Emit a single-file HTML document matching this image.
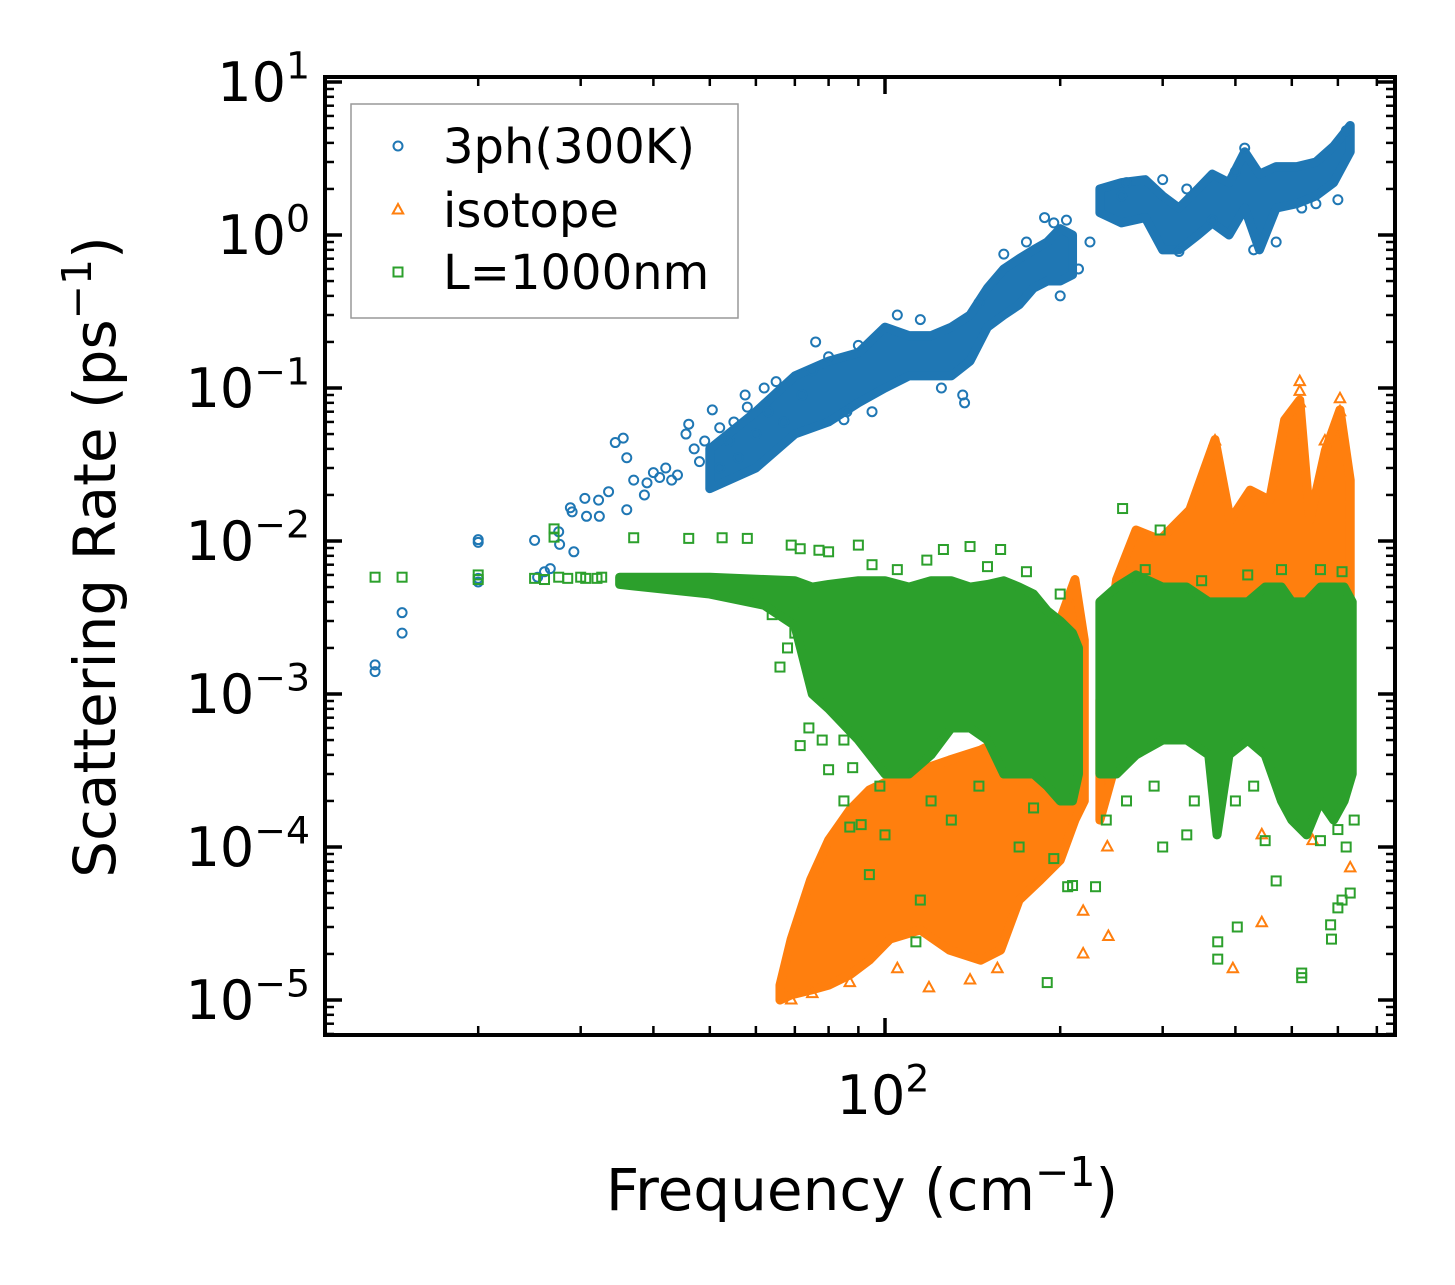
<!DOCTYPE html>
<html><head><meta charset="utf-8"><style>
html,body{margin:0;padding:0;background:#fff;}
svg{display:block;font-family:"DejaVu Sans","Liberation Sans",sans-serif;}
</style></head><body>
<svg id="chart" width="1455" height="1285" viewBox="0 0 1455 1285">
<rect width="1455" height="1285" fill="#fff"/>
<g id="plot"></g>
<g id="axes"></g>
</svg>
<script>
// ---- data ----
const blueBand = [[50,0.022,0.04],[60,0.03,0.07],[70,0.05,0.12],[80,0.06,0.15],[90,0.08,0.17],[100,0.1,0.25],[110,0.12,0.22],[120,0.12,0.22],[130,0.12,0.25],[140,0.15,0.3],[150,0.25,0.45],[160,0.3,0.6],[170,0.35,0.7],[180,0.45,0.8],[190,0.5,0.9],[200,0.5,1.1],[210,0.55,1.0]];
const blueBand2 = [[234,1.4,2.0],[255,1.2,2.2],[280,1.3,2.3],[300,0.8,1.8],[320,0.8,1.5],[345,1.0,2.0],[365,1.2,2.5],[390,1.0,2.2],[415,1.5,3.5],[440,0.8,2.5],[470,1.5,2.8],[510,1.6,2.8],[550,1.8,3.0],[590,2.2,3.8],[630,3.5,5.2]];
const bluePts = [[13.3,0.00155],[13.3,0.0014],[14.8,0.0034],[14.8,0.0025],[20,0.0102],[20,0.0098],[20,0.0057],[20,0.0054],[25,0.0101],[25.3,0.0058],[26,0.0063],[26.6,0.0066],[27.5,0.0115],[27.6,0.0095],[28.8,0.0165],[29,0.0155],[29.2,0.0085],[30.5,0.019],[30.7,0.0145],[32.2,0.0185],[32.3,0.0145],[33.5,0.021],[34.4,0.044],[35.5,0.047],[36,0.035],[36,0.016],[37,0.025],[38.6,0.02],[39,0.024],[40,0.028],[41,0.026],[42,0.03],[43,0.025],[44,0.027],[45.5,0.05],[46,0.058],[47,0.04],[48,0.033],[50.5,0.072],[52,0.055],[54,0.045],[57.5,0.09],[58,0.075],[62,0.1],[65,0.11],[76,0.2],[85,0.062],[86,0.07],[80,0.16],[137,0.08],[136,0.09],[188,1.3],[195,1.2],[205,1.25],[225,0.9],[255,1.8],[320,0.78],[365,1.25],[415,3.7],[550,1.6],[430,0.8],[49,0.045],[52,0.03],[55,0.06],[56,0.035],[60,0.05],[63,0.07],[67,0.06],[72,0.09],[75,0.13],[90,0.19],[95,0.07],[105,0.3],[115,0.28],[125,0.1],[145,0.36],[160,0.75],[175,0.9],[200,0.4],[215,0.6],[260,2.2],[300,2.3],[330,2.0],[400,2.6],[470,0.9],[520,1.5],[600,1.7],[620,4.8]];
const orangeBand = [[66,1.0e-5,1.25e-5],[69,1.08e-5,2.5e-5],[74.5,1.16e-5,6.1e-5],[80,1.25e-5,1.11e-4],[87,1.46e-5,1.75e-4],[94,1.82e-5,2.36e-4],[102,2.5e-5,2.74e-4],[115,2.87e-5,3.18e-4],[129,2.12e-5,3.7e-4],[146,1.82e-5,4.3e-4],[158,2.12e-5,5e-4],[170,4.5e-5,6.8e-4],[185,6.1e-5,9.1e-4],[200,8.2e-5,3.05e-3],[212,1.5e-4,5.6e-3],[220,2.0e-4,2.25e-3]];
const orangeBand2 = [[234,1.5e-4,9.1e-4],[250,3.7e-4,5.6e-3],[270,6.8e-4,0.0118],[297,8e-4,0.0102],[334,8e-4,0.016],[369,8e-4,0.046],[392,8e-4,0.0137],[424,8e-4,0.0215],[458,8e-4,0.0185],[486,8e-4,0.0618],[516,8e-4,0.0835],[537,8e-4,0.0137],[571,8e-4,0.039],[605,8e-4,0.072],[630,8e-4,0.025]];
const orangePts = [[516,0.11],[516,0.095],[516,0.08],[605,0.085],[605,0.07],[369,0.045],[570,0.045],[241,1.0e-4],[242,2.6e-5],[219,2e-5],[396,1.6e-5],[444,3.2e-5],[630,7.3e-5],[444,1.2e-4],[543,1.1e-4],[87,1.3e-5],[119,1.2e-5],[140,1.35e-5],[105,1.6e-5],[156,1.6e-5],[219,3.8e-5],[69,1.0e-5],[75,1.1e-5]];
const greenBand = [[35,0.0052,0.0058],[50,0.0045,0.0058],[62,0.0038,0.0056],[70,0.0028,0.0055],[75,0.001,0.005],[80,0.0008,0.0052],[90,0.0005,0.0055],[100,0.0003,0.0055],[110,0.0003,0.005],[120,0.0004,0.0055],[130,0.0006,0.0055],[140,0.0006,0.005],[150,0.0005,0.0052],[160,0.0003,0.0055],[170,0.0003,0.005],[180,0.0003,0.0045],[190,0.00025,0.0035],[200,0.0002,0.003],[210,0.0002,0.0025],[215,0.0003,0.002]];
const greenBand2 = [[234,0.0003,0.004],[250,0.0003,0.005],[270,0.0004,0.006],[300,0.0005,0.005],[330,0.0005,0.005],[360,0.0004,0.004],[372,0.00012,0.004],[390,0.0004,0.004],[420,0.0005,0.004],[450,0.0004,0.005],[480,0.0002,0.005],[500,0.00015,0.004],[530,0.00012,0.004],[560,0.0002,0.005],[590,0.00015,0.005],[615,0.0002,0.005],[635,0.0003,0.004]];
const greenPts = [[13.3,0.0058],[14.8,0.0058],[20,0.006],[20,0.0056],[25,0.0057],[26,0.0056],[27.5,0.0058],[28.5,0.0057],[30,0.0058],[30.6,0.0057],[32,0.0057],[32.6,0.0058],[27,0.012],[27,0.0106],[37,0.0105],[46,0.0104],[52.5,0.0105],[58,0.0104],[69,0.0094],[71.5,0.0089],[77,0.0087],[80,0.0085],[90,0.0094],[126,0.0088],[158,0.0088],[140,0.0092],[71.5,0.00046],[80,0.00032],[74,0.0006],[78,0.0005],[85,0.0005],[88,0.00033],[115,4.5e-5],[190,1.3e-5],[373,2.4e-5],[373,1.85e-5],[403,3.0e-5],[520,1.5e-5],[520,1.4e-5],[583,3.1e-5],[585,2.5e-5],[230,5.5e-5],[206,5.5e-5],[210,5.6e-5],[195,8.4e-5],[113,2.4e-5],[94,6.6e-5],[91,1.4e-4],[87,1.35e-4],[256,0.0163],[297,0.0118],[66,0.0015],[68,0.002],[70,0.0025],[100,0.00012],[130,0.00015],[170,0.0001],[300,0.0001],[330,0.00012],[450,0.00011],[600,0.00013],[620,0.0001],[610,4.5e-5],[630,5e-5],[600,4e-5],[470,6e-5],[60,0.0042],[64,0.0033],[68,0.0045],[72,0.0035],[76,0.0025],[95,0.007],[105,0.0065],[118,0.0075],[150,0.0068],[175,0.0063],[200,0.0045],[85,0.0002],[98,0.00025],[120,0.0002],[145,0.00025],[180,0.00018],[240,0.00015],[260,0.0002],[290,0.00025],[340,0.0002],[400,0.0002],[430,0.00025],[560,0.00011],[640,0.00015],[280,0.0065],[350,0.0055],[420,0.006],[480,0.0065],[560,0.0065],[610,0.0063]];
const yTicks = [1e1,1e0,1e-1,1e-2,1e-3,1e-4,1e-5];
const yTickExp = ["1","0","\u22121","\u22122","\u22123","\u22124","\u22125"];
const xTicks = [100];
const xTickExp = ["2"];

// ---- scales ----
const L=325,R=1395,T=77,B=1035;
const X=f=>885+582*(Math.log10(f)-2);
const Y=r=>235-153*Math.log10(r);
const NS='http://www.w3.org/2000/svg';
const plot=document.getElementById('plot'), axes=document.getElementById('axes');
function mk(tag,attrs,parent){const e=document.createElementNS(NS,tag);for(const k in attrs)e.setAttribute(k,attrs[k]);parent.appendChild(e);return e;}
const C={b:'#1f77b4',o:'#ff7f0e',g:'#2ca02c'};

function band(arr,color,name){
  let pts=arr.map(d=>X(d[0])+','+Y(d[2]));
  pts=pts.concat(arr.slice().reverse().map(d=>X(d[0])+','+Y(d[1])));
  const p=mk('polygon',{points:pts.join(' '),fill:color,stroke:color,'stroke-width':9,'stroke-linejoin':'round'},plot);
  
  
}
function circ(x,y,parent){return mk('circle',{cx:x,cy:y,r:4.5,fill:'none',stroke:C.b,'stroke-width':2},parent);}
function tri(x,y,parent){return mk('polygon',{points:`${x},${y-6} ${x-5.2},${y+3.5} ${x+5.2},${y+3.5}`,fill:'none',stroke:C.o,'stroke-width':2},parent);}
function sq(x,y,parent){return mk('rect',{x:x-4.5,y:y-4.5,width:9,height:9,fill:'none',stroke:C.g,'stroke-width':2},parent);}

band(blueBand,C.b,'3ph-band-low');
band(blueBand2,C.b,'3ph-band-high');
bluePts.forEach(d=>{const e=circ(X(d[0]),Y(d[1]),plot);
  
  });
band(orangeBand,C.o,'isotope-band-low');
band(orangeBand2,C.o,'isotope-band-high');
orangePts.forEach(d=>{const e=tri(X(d[0]),Y(d[1]),plot);
  
  });
band(greenBand,C.g,'boundary-band-low');
band(greenBand2,C.g,'boundary-band-high');
greenPts.forEach(d=>{const e=sq(X(d[0]),Y(d[1]),plot);
  
  });

// ---- axes ----
function line(x1,y1,x2,y2,w,name){const e=mk('line',{x1,y1,x2,y2,stroke:'#000','stroke-width':w},axes);
  
  }
for(let e=-5;e<=1;e++){
  const y=Y(Math.pow(10,e));
  line(L,y,L+17,y,3.5,'y-major-tick');line(R,y,R-17,y,3.5,'y-major-tick');
  if(e<1)for(let k=2;k<=9;k++){const yy=Y(k*Math.pow(10,e));line(L,yy,L+9,yy,2.5,'y-minor-tick');line(R,yy,R-9,yy,2.5,'y-minor-tick');}
}
for(let k=6;k<=9;k++){const yy=Y(k*1e-6);if(yy<B){line(L,yy,L+9,yy,2.5,'y-minor-tick');line(R,yy,R-9,yy,2.5,'y-minor-tick');}}
[20,30,40,50,60,70,80,90,200,300,400,500,600,700].forEach(f=>{const x=X(f);line(x,B,x,B-9,2.5,'x-minor-tick');line(x,T,x,T+9,2.5,'x-minor-tick');});
xTicks.forEach(f=>{const x=X(f);line(x,B,x,B-17,3.5,'x-major-tick');line(x,T,x,T+17,3.5,'x-major-tick');});
const fr=mk('rect',{x:L,y:T,width:R-L,height:B-T,fill:'none',stroke:'#000','stroke-width':4},axes);



function supLabel(x,y,base,exp,anchor,name,size){
  const t=mk('text',{x,y,'font-size':size,'text-anchor':anchor,fill:'#000'},axes);
  
  
  const a=mk('tspan',{},t);a.textContent=base;
  const b=mk('tspan',{dy:-size*0.42,'font-size':size*0.7},t);b.textContent=exp;
  return t;
}
yTicks.forEach((v,i)=>supLabel(310,Y(v)+19,'10',yTickExp[i],'end','y-tick-label',54));
xTicks.forEach((v,i)=>supLabel(X(v)-2,1114,'10',xTickExp[i],'middle','x-tick-label',54));

const xt=mk('text',{x:862,y:1210,'font-size':58,'text-anchor':'middle'},axes);


mk('tspan',{},xt).textContent='Frequency (cm';
mk('tspan',{dy:-24,'font-size':41},xt).textContent='\u22121';
mk('tspan',{dy:24},xt).textContent=')';
const yt=mk('text',{x:0,y:0,'font-size':58,'text-anchor':'middle',transform:'translate(115,557) rotate(-90)'},axes);


mk('tspan',{},yt).textContent='Scattering Rate (ps';
mk('tspan',{dy:-24,'font-size':41},yt).textContent='\u22121';
mk('tspan',{dy:24},yt).textContent=')';

const lg=mk('g',{},axes);


mk('rect',{x:351,y:104,width:387,height:214,fill:'#fff','fill-opacity':0.8,stroke:'#999','stroke-width':1.5},lg);
const entries=[['3ph(300K)',circ,146],['isotope',tri,210],['L=1000nm',sq,272]];
entries.forEach(en=>{
  const g=mk('g',{},lg);
  
  
  en[1](398,en[2],g);
  const t=mk('text',{x:443,y:en[2]+17,'font-size':48},g);t.textContent=en[0];
});
</script>
</body></html>
